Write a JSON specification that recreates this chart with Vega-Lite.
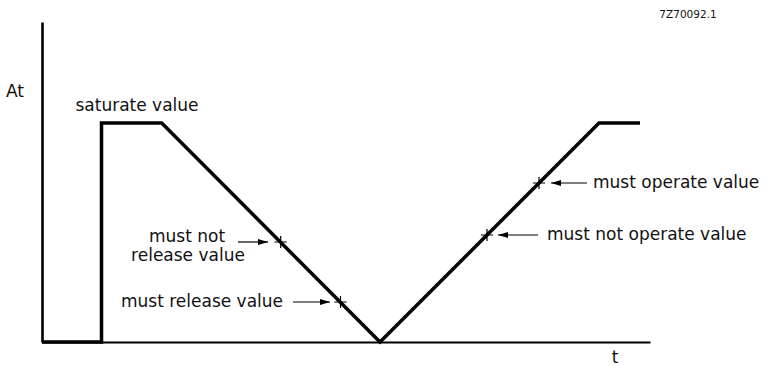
{
  "$schema": "https://vega.github.io/schema/vega-lite/v6.json",
  "width": 608,
  "height": 320,
  "autosize": {"type": "none"},
  "padding": {"left": 42, "top": 22, "right": 125, "bottom": 24},
  "background": "white",
  "config": {
    "view": {"stroke": null},
    "text": {"font": "DejaVu Sans", "color": "#111"},
    "axis": {"domain": true, "domainColor": "#000", "ticks": false, "labels": false, "grid": false, "title": null},
    "axisX": {"domainWidth": 1.8},
    "axisY": {"domainWidth": 2.6}
  },
  "datasets": {
    "curve": [
      {"t": 0, "A": 0},
      {"t": 5.95, "A": 0},
      {"t": 5.95, "A": 21.9},
      {"t": 11.97, "A": 21.9},
      {"t": 33.8, "A": 0},
      {"t": 55.7, "A": 21.9},
      {"t": 59.8, "A": 21.9}
    ],
    "crosses": [
      {"t": 23.87, "A": 10.0},
      {"t": 29.85, "A": 4.0},
      {"t": 44.5, "A": 10.7},
      {"t": 49.7, "A": 15.9}
    ],
    "arrows": [
      {"t": 19.6, "t2": 22.6, "A": 10.0, "dir": "right"},
      {"t": 25.1, "t2": 28.8, "A": 4.0, "dir": "right"},
      {"t": 49.6, "t2": 45.6, "A": 10.7, "dir": "left"},
      {"t": 54.5, "t2": 50.9, "A": 15.9, "dir": "left"}
    ],
    "labelsCenter": [
      {"t": 9.5, "A": 23.6, "text": "saturate value", "size": 17},
      {"t": 14.5, "A": 10.5, "text": "must not", "size": 17},
      {"t": 14.6, "A": 8.6, "text": "release value", "size": 17},
      {"t": 16.0, "A": 4.0, "text": "must release value", "size": 17},
      {"t": -2.7, "A": 25.0, "text": "At", "size": 17},
      {"t": 57.3, "A": -1.6, "text": "t", "size": 17},
      {"t": 64.6, "A": 32.7, "text": "7Z70092.1", "size": 10.5}
    ],
    "labelsLeft": [
      {"t": 55.1, "A": 15.9, "text": "must operate value"},
      {"t": 50.5, "A": 10.7, "text": "must not operate value"}
    ]
  },
  "layer": [
    {
      "data": {"name": "curve"},
      "mark": {"type": "line", "color": "#000", "strokeWidth": 3.5, "strokeJoin": "miter", "strokeCap": "butt", "clip": false},
      "encoding": {
        "x": {"field": "t", "type": "quantitative", "scale": {"domain": [0, 60.8], "nice": false, "zero": false}},
        "y": {"field": "A", "type": "quantitative", "scale": {"domain": [0, 32], "nice": false, "zero": false}},
        "order": {"field": "idx"}
      }
    },
    {
      "data": {"name": "crosses"},
      "mark": {"type": "point", "shape": "M-1,0L1,0M0,-1L0,1", "filled": false, "stroke": "#000", "strokeWidth": 1.2, "size": 150, "opacity": 1, "clip": false},
      "encoding": {
        "x": {"field": "t", "type": "quantitative"},
        "y": {"field": "A", "type": "quantitative"}
      }
    },
    {
      "data": {"name": "arrows"},
      "mark": {"type": "rule", "color": "#000", "strokeWidth": 1.2, "clip": false},
      "encoding": {
        "x": {"field": "t", "type": "quantitative"},
        "x2": {"field": "t2"},
        "y": {"field": "A", "type": "quantitative"}
      }
    },
    {
      "data": {"name": "arrows"},
      "mark": {"type": "point", "filled": true, "color": "#000", "size": 100, "opacity": 1, "clip": false},
      "encoding": {
        "x": {"field": "t2", "type": "quantitative"},
        "y": {"field": "A", "type": "quantitative"},
        "shape": {"field": "dir", "type": "nominal", "legend": null,
          "scale": {"domain": ["right", "left"], "range": ["M0,0L-2,-0.6L-2,0.6Z", "M0,0L2,-0.6L2,0.6Z"]}}
      }
    },
    {
      "data": {"name": "labelsCenter"},
      "mark": {"type": "text", "align": "center", "baseline": "middle", "clip": false},
      "encoding": {
        "x": {"field": "t", "type": "quantitative"},
        "y": {"field": "A", "type": "quantitative"},
        "text": {"field": "text"},
        "size": {"field": "size", "type": "quantitative", "scale": null}
      }
    },
    {
      "data": {"name": "labelsLeft"},
      "mark": {"type": "text", "align": "left", "baseline": "middle", "fontSize": 17, "clip": false},
      "encoding": {
        "x": {"field": "t", "type": "quantitative"},
        "y": {"field": "A", "type": "quantitative"},
        "text": {"field": "text"}
      }
    }
  ]
}
